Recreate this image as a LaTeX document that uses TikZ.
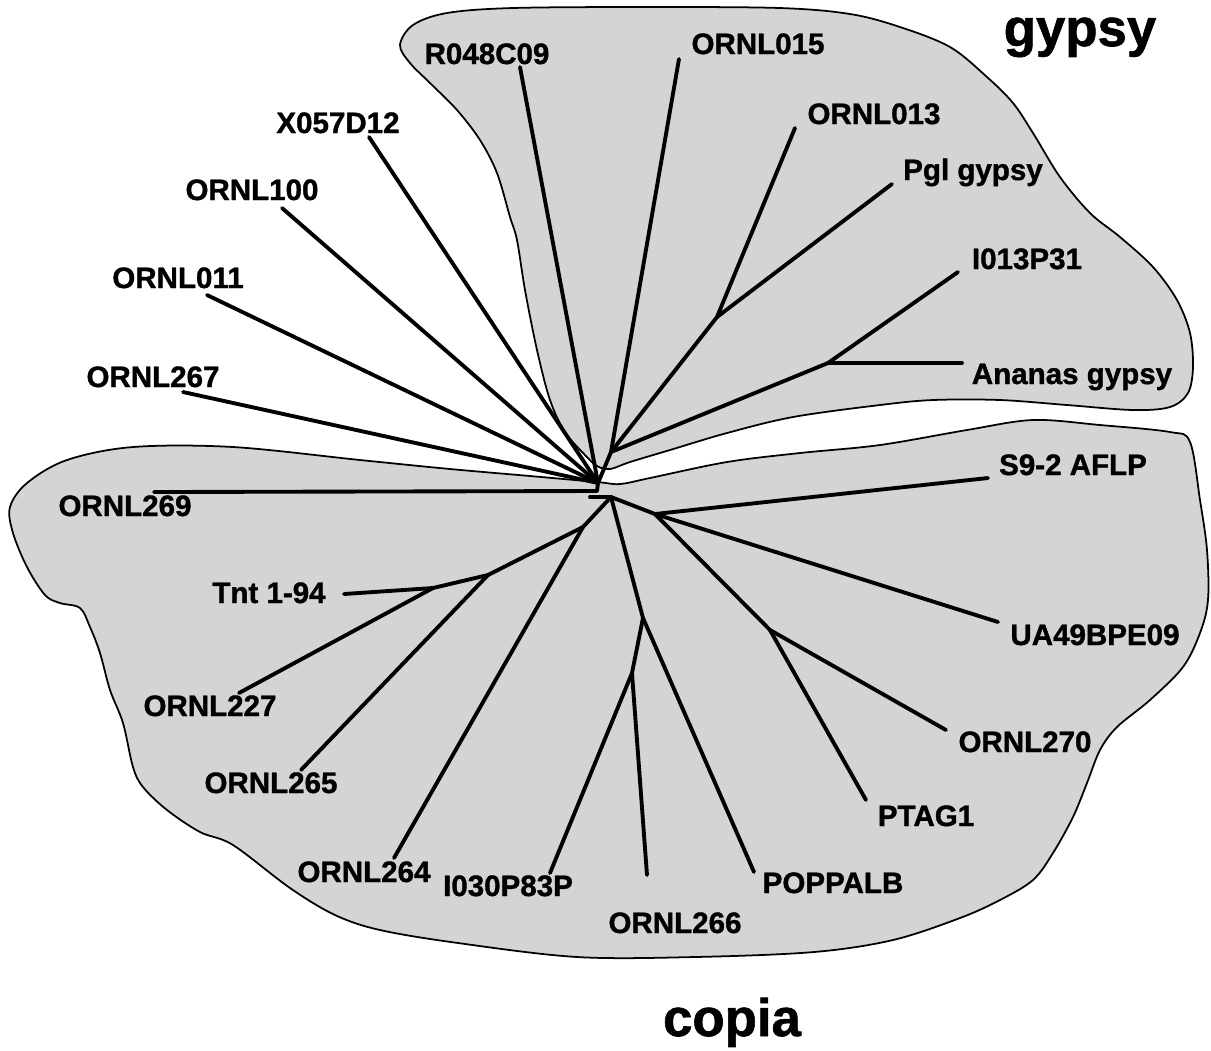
\documentclass[tikz,border=0pt]{standalone}
\usepackage{fontspec}
\setmainfont{Liberation Sans}
\newfontfamily\taxafont{Liberation Sans Bold}[FakeBold=1.2]
\usepackage{tikz}

\tikzset{
  branch/.style={line width=1.1pt, line cap=round},
  taxon/.style={font=\taxafont\fontsize{8.4}{10}\selectfont, inner sep=0pt, anchor=base},
  clade/.style={font=\taxafont\fontsize{15}{18}\selectfont, inner sep=0pt, anchor=base},
  region/.style={draw=black, line width=0.5pt, fill=black!17},
}

\begin{document}
\begin{tikzpicture}[x=0.01cm,y=-0.01cm]
    \useasboundingbox (0,0) rectangle (1211,1050);
    \draw[region] plot[smooth cycle, tension=0.55] coordinates {
      (400,45) (413,25) (447,13) (513,8) (647,7) (780,8) (850,14) (900,27)
      (950,47) (987,77) (1013,103) (1033,133) (1060,177) (1090,213) (1120,237)
      (1153,267) (1177,300) (1190,333) (1193,367) (1188,393) (1170,407)
      (1133,410) (1067,405) (1000,400) (933,400) (880,405) (793,417) (727,433)
      (670,450) (630,462) (610,469) (597,466) (585,455) (565,432) (550,400)
      (537,350) (525,290) (517,240) (510,217) (497,173) (480,140) (457,110)
      (430,83) (410,63)};
    \draw[region] plot[smooth cycle, tension=0.55] coordinates {
      (597,482) (620,484) (650,478) (727,462) (800,453) (880,445) (967,430)
      (1033,420) (1100,425) (1170,432) (1190,442) (1200,500) (1207,550)
      (1208,600) (1200,633) (1183,667) (1150,700) (1117,727) (1100,750)
      (1087,783) (1073,817) (1053,853) (1033,880) (1000,900) (960,918)
      (893,940) (814,952) (695,957) (577,957) (458,943) (380,930) (335,915)
      (290,888) (233,845) (200,832) (167,810) (143,787) (133,767) (123,723)
      (110,690) (100,653) (90,627) (80,608) (60,603) (45,595) (27,567)
      (13,533) (10,507) (27,483) (67,460) (133,447) (233,447) (360,460)
      (450,469) (530,476)};

    \coordinate (g0) at (598,483);
    \coordinate (g1) at (611,452);
    \coordinate (g2) at (717,317);
    \coordinate (g3) at (828,363);
    \coordinate (j269) at (597,491);
    \coordinate (tk) at (590,497);
    \coordinate (c0) at (611,497);
    \coordinate (l1) at (583,527);
    \coordinate (l2) at (488,575);
    \coordinate (l3) at (433,588);
    \coordinate (b1) at (643,618);
    \coordinate (b2) at (632,673);
    \coordinate (r1) at (655,514);
    \coordinate (r2) at (770,630);
    \foreach \n/\p in {tr048/{520,67}, t015/{679,59}, tx057/{369,137},
        t100/{282,208}, t011/{207,295}, t267/{183,392}, t013/{795,128},
        tpgl/{892,184}, ti013/{958,272}, tananas/{962,363}, t269/{154,492},
        t264/{394,858}, t265/{301,770}, ttnt/{344,594}, t227/{239,693},
        ti030/{550,873}, t266/{647,875}, tpop/{754,872}, ts92/{988,478},
        tua49/{998,622}, t270/{946,730}, tptag/{866,800}}
      \coordinate (\n) at (\p);

    \foreach \a/\b in {g0/g1, g0/tr048, g1/t015, g0/tx057, g0/t100, g0/t011,
        g0/t267, g1/g2, g2/t013, g2/tpgl, g1/g3, g3/ti013, g3/tananas,
        g0/j269, j269/t269, tk/c0, c0/l1, l1/t264, l1/l2, l2/t265, l2/l3,
        l3/ttnt, l3/t227, c0/b1, b1/b2, b2/ti030, b2/t266, b1/tpop, c0/r1,
        r1/ts92, r1/tua49, r1/r2, r2/t270, r2/tptag}
      \draw[branch] (\a) to (\b);

    \foreach \n/\p/\t in {r048c09/{487,64}/R048C09, ornl015/{758,54}/ORNL015,
        x057d12/{338,133}/X057D12, ornl013/{874,124}/ORNL013,
        ornl100/{252,200}/ORNL100, pglgypsy/{973,180}/Pgl gypsy,
        ornl011/{178,288}/ORNL011, i013p31/{1027,269}/I013P31,
        ornl267/{153,387}/ORNL267, ananas/{1072,384}/Ananas gypsy,
        ornl269/{125,516}/ORNL269, s92aflp/{1073,475}/S9-2 AFLP,
        tnt194/{269,603}/Tnt 1-94, ua49bpe09/{1095,645}/UA49BPE09,
        ornl227/{210,716}/ORNL227, ornl270/{1025,752}/ORNL270,
        ornl265/{271,793}/ORNL265, ptag1/{926,826}/PTAG1,
        ornl264/{364,882}/ORNL264, i030p83p/{508,896}/I030P83P,
        poppalb/{833,893}/POPPALB, ornl266/{675,933}/ORNL266}
      \node[taxon] (\n) at (\p) {\t};

    \node[clade] (gypsy) at (1080,46) {gypsy};
    \node[clade] (copia) at (732,1036) {copia};
  \end{tikzpicture}
\end{document}
